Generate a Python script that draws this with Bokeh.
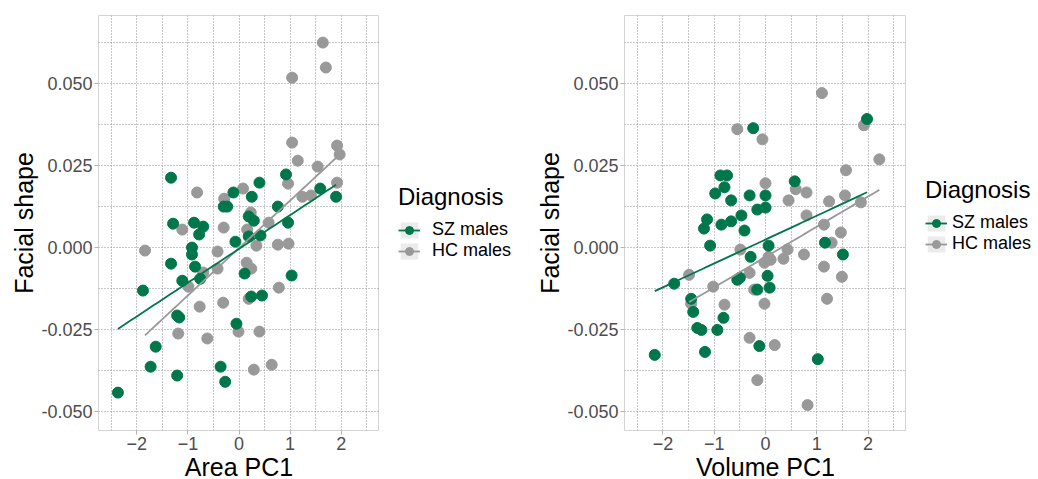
import numpy as np
from bokeh.plotting import figure
from bokeh.layouts import row
from bokeh.models import (FixedTicker, PrintfTickFormatter,
                          Legend, LegendItem, Range1d)
from bokeh.embed import file_html
from bokeh.resources import INLINE

# ---------------- data ----------------
groups = ["SZ males", "HC males"]
legend_title = "Diagnosis"
y_title = "Facial shape"
x_titles = ["Area PC1", "Volume PC1"]

area_sz_x = [-1.33, -0.11, 0.25, 0.40, 0.92, 1.59, 1.90, -0.30, -0.23, 0.76,
             0.19, 0.29, 0.96, -1.29, -0.88, -0.70, -0.78, -0.07, 0.19, 0.42,
             -0.92, -0.92, -1.33, -0.86, -1.11, -0.76, -1.88, 0.11, 1.03, 0.24,
             0.45, -1.21, -1.17, -0.05, -1.63, -1.73, -1.21, -0.36, -0.27, -2.37]
area_sz_y = [0.0213, 0.0168, 0.0155, 0.0198, 0.0223, 0.0180, 0.0155, 0.0125, 0.0125, 0.0125,
             0.0095, 0.0082, 0.0076, 0.0073, 0.0076, 0.0064, 0.0040, 0.0018, 0.0034, 0.0037,
             0.0000, -0.0021, -0.0049, -0.0058, -0.0101, -0.0095, -0.0131, -0.0079, -0.0085, -0.0149,
             -0.0146, -0.0207, -0.0213, -0.0232, -0.0302, -0.0363, -0.0390, -0.0363, -0.0409, -0.0442]

area_hc_x = [1.64, 1.70, 1.04, 1.04, 1.92, 1.97, 1.15, 1.54, 1.92, 0.96,
             1.24, 1.41, -0.82, 0.08, -0.29, 0.23, 0.58, -1.11, -0.30, 0.16,
             0.34, 0.76, 0.97, -1.84, -0.42, 0.15, 0.24, -0.42, -0.70, -0.99,
             0.78, 0.19, -0.31, -0.77, -1.19, -0.62, -0.01, 0.40, 0.29, 0.64]
area_hc_y = [0.0625, 0.0549, 0.0518, 0.0320, 0.0311, 0.0284, 0.0265, 0.0247, 0.0198, 0.0195,
             0.0155, 0.0159, 0.0168, 0.0180, 0.0149, 0.0107, 0.0076, 0.0055, 0.0061, 0.0055,
             0.0006, 0.0009, 0.0012, -0.0009, -0.0012, -0.0046, -0.0064, -0.0064, -0.0076, -0.0119,
             -0.0122, -0.0156, -0.0168, -0.0180, -0.0262, -0.0277, -0.0256, -0.0256, -0.0372, -0.0357]

vol_sz_x = [-0.24, 1.98, -0.88, -0.75, -0.80, -0.98, -0.31, -0.67, 0.00, 0.57,
            0.00, -0.16, -0.47, -1.14, -1.20, -0.86, -0.67, -0.41, -1.08, 0.06,
            1.16, 1.51, -0.29, -1.78, -0.55, -0.50, 0.04, -0.16, 0.08, -1.45,
            -1.41, -0.82, -1.33, -1.25, -0.94, -0.12, -1.18, -2.16, 1.02]
vol_sz_y = [0.0364, 0.0392, 0.0220, 0.0220, 0.0184, 0.0165, 0.0159, 0.0144, 0.0159, 0.0202,
            0.0122, 0.0116, 0.0098, 0.0086, 0.0058, 0.0070, 0.0080, 0.0052, 0.0006, 0.0006,
            0.0015, -0.0021, -0.0028, -0.0110, -0.0098, -0.0092, -0.0086, -0.0128, -0.0122, -0.0156,
            -0.0196, -0.0214, -0.0245, -0.0251, -0.0251, -0.0300, -0.0318, -0.0327, -0.0340]

vol_hc_x = [1.10, 1.92, 2.22, -0.55, -0.06, 0.00, 1.57, 0.59, 0.80, 0.45,
            1.24, 1.55, 1.86, 0.80, 1.14, 1.47, 1.29, -0.49, 0.43, 0.75,
            0.35, 0.10, -0.02, 1.14, -1.49, -0.31, 1.49, -1.02, -0.22, 1.20,
            -1.45, -0.80, -0.02, -0.31, 0.18, -0.16, 0.82, 0.06]
vol_hc_y = [0.0471, 0.0373, 0.0269, 0.0361, 0.0330, 0.0196, 0.0236, 0.0178, 0.0168, 0.0144,
            0.0141, 0.0159, 0.0138, 0.0098, 0.0070, 0.0046, 0.0015, -0.0006, -0.0006, -0.0021,
            -0.0034, -0.0037, -0.0046, -0.0058, -0.0083, -0.0077, -0.0089, -0.0119, -0.0128, -0.0156,
            -0.0171, -0.0174, -0.0171, -0.0275, -0.0297, -0.0404, -0.0480, -0.0028]

x_ticks = [-2, -1, 0, 1, 2]
x_minor = [-2.5, -1.5, -0.5, 0.5, 1.5, 2.5]
y_ticks = [-0.05, -0.025, 0.0, 0.025, 0.05]
y_minor = [-0.0375, -0.0125, 0.0125, 0.0375, 0.0625]
x_limits = (-2.5, 2.5)
y_limits = (-0.05, 0.065)

# ---------------- style ----------------
GREEN = "#00774B"
GREY = "#999999"
KEY_BG = "#ebebeb"
FONT = "Liberation Sans"
GRID = "#939393"


def expand(lim, f=0.05):
    d = (lim[1] - lim[0]) * f
    return lim[0] - d, lim[1] + d


def fit_line(x, y):
    x = np.asarray(x); y = np.asarray(y)
    b, a = np.polyfit(x, y, 1)
    xs = np.linspace(x.min(), x.max(), 50)
    return xs, a + b * xs


def make_panel(xlabel, sz_x, sz_y, hc_x, hc_y, fw, bl, bt, bb):
    xr = expand(x_limits); yr = expand(y_limits)
    p = figure(frame_width=fw, frame_height=415,
               x_range=Range1d(*xr), y_range=Range1d(*yr),
               output_backend="svg", toolbar_location=None,
               min_border_left=bl, min_border_right=0, min_border_top=bt,
               min_border_bottom=bb,
               background_fill_color="white", border_fill_color="white")
    p.outline_line_color = "#d4d4d4"
    p.outline_line_width = 1

    xt = FixedTicker(ticks=x_ticks, minor_ticks=x_minor)
    yt = FixedTicker(ticks=y_ticks, minor_ticks=y_minor)
    p.xaxis.ticker = xt
    p.yaxis.ticker = yt
    p.xgrid.ticker = xt
    p.ygrid.ticker = yt
    p.yaxis.formatter = PrintfTickFormatter(format="%.3f")

    for ax in (p.xaxis[0], p.yaxis[0]):
        ax.axis_line_color = None
        ax.major_tick_line_color = "#b3b3b3"
        ax.major_tick_out = 4
        ax.major_tick_in = 0
        ax.minor_tick_line_color = None
        ax.major_label_text_font = FONT
        ax.major_label_text_font_size = "18px"
        ax.major_label_text_color = "#4d4d4d"
        ax.major_label_standoff = 2
        ax.axis_label_text_font = FONT
        ax.axis_label_text_font_size = "25px"
        ax.axis_label_text_font_style = "normal"
        ax.axis_label_text_color = "black"
        ax.axis_label_standoff = 0
    p.xaxis.axis_label = xlabel
    p.yaxis.axis_label = y_title

    for g in (p.xgrid[0], p.ygrid[0]):
        g.grid_line_color = GRID
        g.grid_line_dash = "1 2"
        g.grid_line_width = 1
        g.minor_grid_line_color = GRID
        g.minor_grid_line_dash = "1 2"
        g.minor_grid_line_width = 1

    p.scatter(hc_x, hc_y, size=11, fill_color=GREY, line_color=GREY)
    p.scatter(sz_x, sz_y, size=11, fill_color=GREEN, line_color=GREEN)

    hx, hy = fit_line(hc_x, hc_y)
    sx, sy = fit_line(sz_x, sz_y)
    p.line(hx, hy, line_color=GREY, line_width=1.8)
    p.line(sx, sy, line_color=GREEN, line_width=1.8)
    return p


def legend_panel(w, sz_x, sz_y, hc_x, hc_y, loc, standoff):
    # a figure that only shows the legend; its view range excludes the data
    f = figure(width=w, height=479, x_axis_type=None, y_axis_type=None,
               x_range=Range1d(10, 11), y_range=Range1d(10, 11),
               output_backend="svg", toolbar_location=None, min_border=0,
               background_fill_color="white", border_fill_color="white")
    f.outline_line_color = None
    f.grid.visible = False
    items = []
    for label, xs, ys, col in ((groups[0], sz_x, sz_y, GREEN), (groups[1], hc_x, hc_y, GREY)):
        bg = f.quad(left=xs, right=xs, top=ys, bottom=ys, fill_color=KEY_BG, line_color=None)
        lx, ly = fit_line(xs, ys)
        ln = f.line(lx, ly, line_color=col, line_width=1.8)
        pt = f.scatter(xs, ys, size=11, fill_color=col, line_color=col)
        items.append(LegendItem(label=label, renderers=[bg, ln, pt]))
    legend = Legend(items=items, title=legend_title, location=loc, orientation="vertical",
                    spacing=0, padding=0, margin=0,
                    glyph_width=22, glyph_height=20, label_height=20,
                    label_standoff=standoff,
                    label_text_font=FONT, label_text_font_size="18px",
                    label_text_color="black",
                    title_text_font=FONT, title_text_font_size="24px",
                    title_text_font_style="normal", title_text_color="black",
                    title_standoff=8,
                    border_line_color=None, background_fill_alpha=0)
    f.add_layout(legend, "center")
    return f


p1 = make_panel(x_titles[0], area_sz_x, area_sz_y, area_hc_x, area_hc_y, 281, 98, 15, 34)
l1 = legend_panel(141, area_sz_x, area_sz_y, area_hc_x, area_hc_y, (19, 165), 12)
p2 = make_panel(x_titles[1], vol_sz_x, vol_sz_y, vol_hc_x, vol_hc_y, 282, 104, 8, 41)
l2 = legend_panel(132, vol_sz_x, vol_sz_y, vol_hc_x, vol_hc_y, (19, 172), 5)

layout = row(p1, l1, p2, l2, spacing=0)
open("out.html", "w").write(file_html(layout, INLINE))
